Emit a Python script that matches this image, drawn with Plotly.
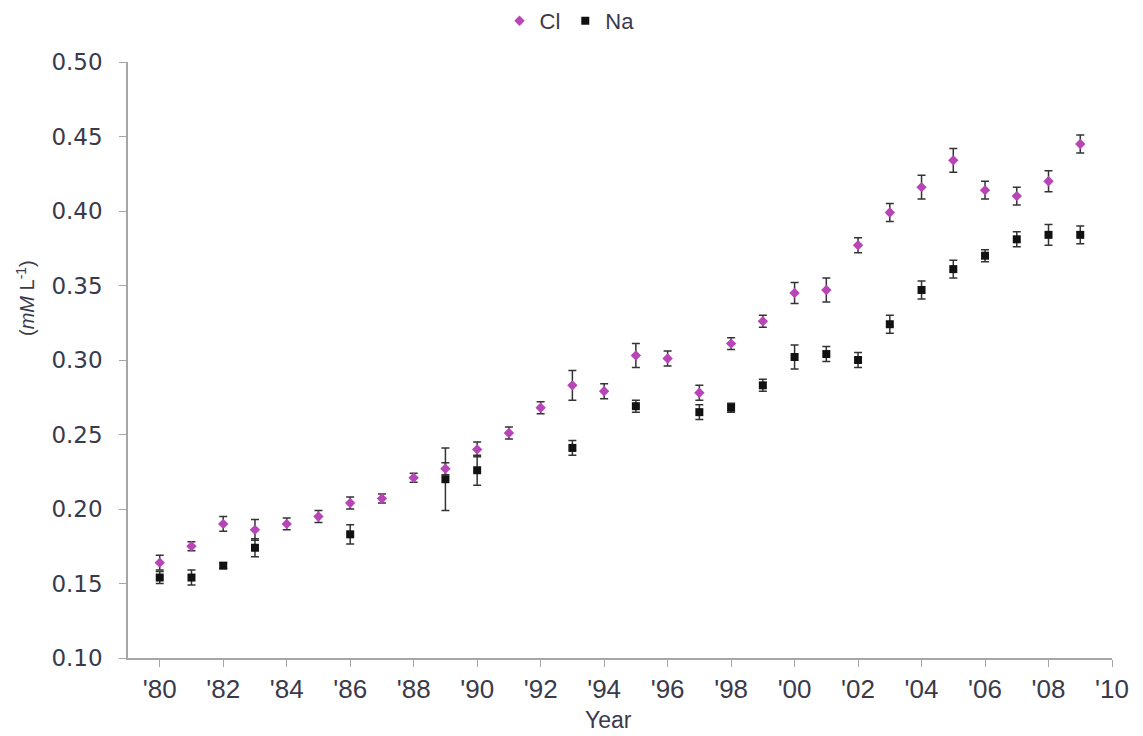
import plotly.graph_objects as go

years = list(range(1980, 2010))
cl = [0.164, 0.175, 0.190, 0.186, 0.190, 0.195, 0.204, 0.207, 0.221, 0.227,
      0.240, 0.251, 0.268, 0.283, 0.279, 0.303, 0.301, 0.278, 0.311, 0.326,
      0.345, 0.347, 0.377, 0.399, 0.416, 0.434, 0.414, 0.410, 0.420, 0.445]
cl_err = [0.005, 0.003, 0.005, 0.007, 0.004, 0.004, 0.004, 0.003, 0.003, 0.004,
          0.005, 0.004, 0.004, 0.010, 0.005, 0.008, 0.005, 0.005, 0.004, 0.004,
          0.007, 0.008, 0.005, 0.006, 0.008, 0.008, 0.006, 0.006, 0.007, 0.006]
na = [0.154, 0.154, 0.162, 0.174, None, None, 0.183, None, None, 0.220,
      0.226, None, None, 0.241, None, 0.269, None, 0.265, 0.268, 0.283,
      0.302, 0.304, 0.300, 0.324, 0.347, 0.361, 0.370, 0.381, 0.384, 0.384]
na_err = [0.004, 0.005, 0.002, 0.006, 0, 0, 0.0065, 0, 0, 0.021,
          0.010, 0, 0, 0.005, 0, 0.004, 0, 0.005, 0.003, 0.004,
          0.008, 0.005, 0.005, 0.006, 0.006, 0.006, 0.004, 0.005, 0.007, 0.006]

tick_vals = list(range(1980, 2011, 2))
tick_text = ["'" + str(y)[2:] for y in tick_vals]
y_ticks = [0.10, 0.15, 0.20, 0.25, 0.30, 0.35, 0.40, 0.45, 0.50]

TXT = "#3a3a4a"
AX = "#a6a6a6"

# page body has an 8px margin, so the figure is sized/offset to compensate
W, H = 1135, 728
L, R, T, B = 120, 31, 54, 78
plot_w = W - L - R
plot_h = H - T - B

fig = go.Figure()
fig.add_trace(go.Scatter(
    x=years, y=na, mode="markers", name="Na",
    marker=dict(symbol="square", size=8, color="#111111"),
    error_y=dict(type="data", array=na_err, visible=True, color="#333333", thickness=1.5, width=4),
    legendrank=2,
))
fig.add_trace(go.Scatter(
    x=years, y=cl, mode="markers", name="Cl",
    marker=dict(symbol="diamond", size=8, color="#b845b8"),
    error_y=dict(type="data", array=cl_err, visible=True, color="#333333", thickness=1.5, width=4),
    legendrank=1,
))

fig.update_layout(
    width=W, height=H,
    paper_bgcolor="white", plot_bgcolor="white",
    margin=dict(l=L, r=R, t=T, b=B),
    font=dict(family="Liberation Sans", size=20, color=TXT),
    legend=dict(orientation="h", x=0.5 - 6 / W, xref="container", xanchor="center",
                y=1 - 13 / H, yref="container", yanchor="middle",
                font=dict(family="Liberation Sans", size=22, color=TXT),
                itemwidth=30, tracegroupgap=0),
    showlegend=True,
    annotations=[
        dict(
            text="(<i>mM</i> L<sup>-1</sup>)", xref="paper", yref="paper",
            x=(17 - L) / plot_w, y=0.604, xanchor="center", yanchor="middle",
            textangle=-90, showarrow=False,
            font=dict(family="Liberation Sans", size=20, color=TXT),
        ),
        dict(
            text="Year", xref="paper", yref="paper",
            x=(600 - L) / plot_w, y=-(712 - T - plot_h) / plot_h,
            xanchor="center", yanchor="middle", showarrow=False,
            font=dict(family="Liberation Sans", size=23, color=TXT),
        ),
    ],
)
fig.update_xaxes(
    range=[1979, 2010], tickvals=tick_vals, ticktext=tick_text,
    showline=True, linecolor=AX, linewidth=1.5,
    ticks="outside", ticklen=7, tickcolor=AX,
    showgrid=False, zeroline=False, automargin=False,
    tickfont=dict(family="Liberation Sans", size=26, color=TXT),
)
fig.update_yaxes(
    range=[0.1, 0.5], tickvals=y_ticks, tickformat=".2f",
    showline=True, linecolor=AX, linewidth=1.5,
    ticks="outside", ticklen=7, tickcolor=AX, ticklabelstandoff=12,
    showgrid=False, zeroline=False, automargin=False,
    tickfont=dict(family="DejaVu Sans", size=23, color=TXT),
)

fig.write_html("out.html")
